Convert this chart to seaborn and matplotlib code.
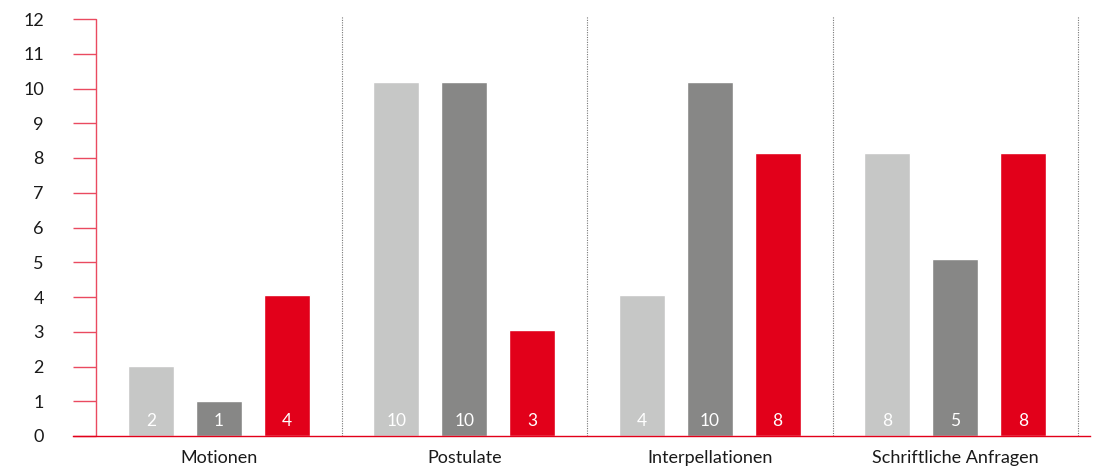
import numpy as np
import pandas as pd
import matplotlib
matplotlib.use("Agg")
import matplotlib.pyplot as plt
import seaborn as sns

categorias = ["Motionen", "Postulate", "Interpellationen", "Schriftliche Anfragen"]
serien = ["Serie 1", "Serie 2", "Serie 3"]
# Balkenhöhen, Beschriftungen gerundet
hoehe_serie1 = [2.02, 10.2, 4.06, 8.15]
hoehe_serie2 = [1.0, 10.2, 10.2, 5.1]
hoehe_serie3 = [4.06, 3.06, 8.15, 8.15]
y_ticks = list(range(0, 13))

farben = ["#c6c7c6", "#878786", "#e2001a"]
rot = "#e2001a"

df = pd.DataFrame({
    "kategorie": categorias * 3,
    "serie": [s for s in serien for _ in categorias],
    "wert": hoehe_serie1 + hoehe_serie2 + hoehe_serie3,
})

sns.set_style("white")
plt.rcParams["font.family"] = ["Lato", "DejaVu Sans"]

fig = plt.figure(figsize=(11.15, 4.72), dpi=100)
ax = fig.add_axes([73 / 1115, 36 / 472, (1090 - 73) / 1115, (453 - 36) / 472])

sns.barplot(data=df, x="kategorie", y="wert", hue="serie", palette=farben,
            width=0.83, gap=0.325, saturation=1, legend=False, ax=ax, errorbar=None)

# Beschriftungen unten im Balken
for cont in ax.containers:
    labels = [str(int(round(r.get_height()))) for r in cont]
    for r, lab in zip(cont, labels):
        ax.text(r.get_x() + r.get_width() / 2, 0.42, lab, ha="center", va="center",
                color="white", fontsize=12.5)

ax.set_xlim(-0.5 - 23 / 245.5, 3.5 + 12 / 245.5)
ax.set_ylim(0, 12)
ax.set_yticks(y_ticks)
ax.set_xlabel("")
ax.set_ylabel("")

for s in ["top", "right", "left"]:
    ax.spines[s].set_visible(False)
ax.spines["bottom"].set_color(rot)
ax.spines["bottom"].set_linewidth(1.0)

ax.axvline(-0.5, color="#ea4a60", lw=1.0)
for xs in [0.5, 1.5, 2.5, 3.5]:
    ax.plot([xs, xs], [0, 12.1], color="#777777", lw=0.8, ls=(0, (1, 1.2)), clip_on=False)

ax.tick_params(axis="y", direction="in", length=16.6, width=1.0, color="#ea4a60",
               pad=21, labelsize=13, labelcolor="#1a1a1a", left=True)
ax.tick_params(axis="x", length=0, pad=10, labelsize=13, labelcolor="#1a1a1a")

fig.savefig("out.png", dpi=100)
